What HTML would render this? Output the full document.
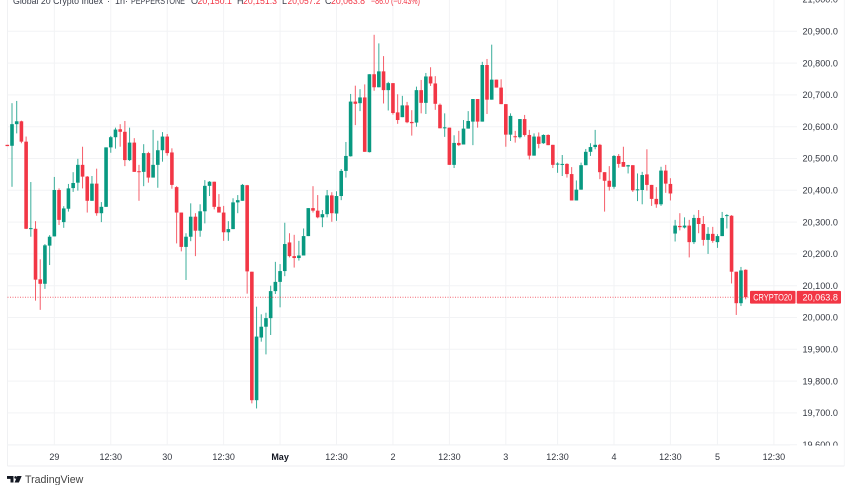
<!DOCTYPE html>
<html lang="en">
<head>
<meta charset="utf-8">
<title>Global 20 Crypto Index candlestick chart</title>
<style>
html,body{margin:0;padding:0;background:#fff;}
body{width:852px;height:485px;overflow:hidden;position:relative;}
#chart{position:absolute;left:0;top:0;filter:blur(0.3px);}
text{font-family:"Liberation Sans",sans-serif;}
</style>
</head>
<body>
<svg id="chart" width="852" height="485" viewBox="0 0 852 485" xmlns="http://www.w3.org/2000/svg">
  <defs>
    <clipPath id="price-clip"><rect x="797" y="0" width="50" height="445.6"/></clipPath>
  </defs>
  <g id="grid"></g>
  <g id="candles"></g>
  <g id="price-axis" clip-path="url(#price-clip)"></g>
  <g id="time-axis"></g>
  <g id="price-marker"></g>
  <g font-size="9" fill="#3a3e4a">
    <text x="13" y="4" textLength="90" lengthAdjust="spacingAndGlyphs">Global 20 Crypto Index</text>
    <text x="107" y="4">·</text>
    <text x="115" y="4">1h</text>
    <text x="125" y="4">·</text>
    <text x="131" y="4" textLength="54" lengthAdjust="spacingAndGlyphs">PEPPERSTONE</text>
    <text x="191" y="4">O</text>
    <text x="197.5" y="4" textLength="34.5" lengthAdjust="spacingAndGlyphs" fill="#f23645">20,150.1</text>
    <text x="237" y="4">H</text>
    <text x="243" y="4" textLength="34" lengthAdjust="spacingAndGlyphs" fill="#f23645">20,151.3</text>
    <text x="282" y="4">L</text>
    <text x="287.5" y="4" textLength="33" lengthAdjust="spacingAndGlyphs" fill="#f23645">20,057.2</text>
    <text x="325" y="4">C</text>
    <text x="331" y="4" textLength="34" lengthAdjust="spacingAndGlyphs" fill="#f23645">20,063.8</text>
    <text x="371" y="4" textLength="49" lengthAdjust="spacingAndGlyphs" fill="#f23645">−86.0 (−0.43%)</text>
  </g>
  <g>
    <path d="M7 476h6.5v6.5h-3v-3.6H7zM14.6 482.5l2.7-6.5h4.4l-2.8 6.5z" fill="#131722"/>
    <circle cx="15.6" cy="477.4" r="1.3" fill="#131722"/>
    <text x="25" y="483" font-size="10.6" fill="#444">TradingView</text>
  </g>
</svg>
<script>
const opens = [20543,20540,20608,20617,20553,20279,20279,20120,20106,20226,20255,20401,20300,20342,20407,20424,20480,20443,20367,20421,20328,20348,20535,20567,20592,20584,20495,20550,20460,20458,20517,20440,20480,20526,20569,20519,20410,20330,20222,20254,20317,20273,20334,20414,20427,20348,20330,20268,20278,20362,20367,20416,20144,19740,19937,19971,19998,20083,20112,20146,20236,20193,20187,20195,20256,20344,20336,20315,20325,20384,20327,20382,20461,20507,20679,20674,20692,20520,20765,20724,20774,20715,20737,20645,20630,20667,20615,20613,20715,20675,20758,20736,20669,20595,20597,20480,20549,20544,20594,20616,20687,20616,20794,20685,20748,20723,20671,20575,20570,20567,20624,20574,20509,20569,20548,20574,20543,20482,20481,20483,20451,20368,20402,20479,20521,20536,20543,20457,20430,20411,20508,20489,20475,20479,20401,20401,20450,20417,20373,20356,20462,20420,20264,20288,20283,20289,20237,20313,20294,20244,20263,20237,20256,20320,20320,20144,20045,20150.1];
const highs = [20543,20674,20681,20619,20569,20426,20303,20183,20231,20259,20442,20406,20350,20420,20457,20499,20537,20445,20445,20468,20363,20535,20571,20597,20608,20618,20597,20564,20480,20545,20521,20590,20556,20583,20577,20532,20413,20330,20265,20359,20328,20356,20432,20429,20427,20388,20351,20303,20375,20385,20420,20417,20144,20034,20010,20015,20100,20175,20168,20298,20265,20260,20241,20280,20344,20413,20385,20338,20401,20394,20397,20467,20552,20703,20729,20718,20733,20765,20889,20862,20822,20741,20737,20702,20697,20678,20652,20726,20747,20769,20787,20759,20673,20642,20597,20573,20587,20621,20649,20687,20687,20804,20813,20858,20748,20749,20671,20642,20587,20624,20637,20590,20579,20582,20576,20576,20543,20488,20511,20485,20473,20431,20487,20530,20548,20590,20546,20457,20476,20511,20514,20537,20480,20479,20453,20458,20529,20417,20410,20474,20480,20438,20307,20328,20315,20307,20323,20338,20319,20284,20285,20262,20332,20325,20322,20144,20159,20151.3];
const lows = [20539,20411,20579,20548,20278,20254,20053,20024,20090,20165,20255,20291,20282,20333,20395,20399,20406,20330,20367,20320,20300,20348,20518,20531,20537,20476,20492,20458,20367,20413,20424,20440,20408,20490,20509,20405,20233,20208,20118,20240,20193,20254,20296,20382,20340,20330,20241,20241,20278,20328,20367,20075,19730,19714,19924,19884,19945,20074,20032,20130,20189,20157,20179,20195,20256,20330,20312,20284,20315,20301,20304,20369,20440,20506,20605,20649,20521,20519,20713,20724,20673,20651,20638,20609,20630,20611,20572,20600,20642,20640,20728,20653,20595,20568,20480,20470,20539,20544,20594,20542,20597,20616,20640,20685,20723,20671,20537,20555,20550,20563,20569,20497,20509,20532,20546,20542,20470,20455,20445,20440,20368,20368,20402,20479,20508,20529,20435,20333,20399,20405,20471,20474,20453,20395,20366,20356,20399,20351,20345,20351,20392,20368,20239,20274,20280,20189,20231,20265,20226,20200,20235,20219,20256,20280,20107,20008,20036,20057.2];
const closes = [20539,20608,20617,20553,20279,20281,20119,20106,20227,20254,20401,20307,20343,20406,20423,20480,20443,20367,20421,20328,20348,20535,20567,20591,20584,20495,20550,20458,20458,20517,20440,20480,20526,20569,20517,20417,20330,20222,20254,20317,20273,20334,20414,20427,20348,20330,20268,20278,20362,20369,20417,20145,19740,19940,19971,19998,20083,20112,20146,20231,20193,20187,20195,20256,20344,20336,20315,20325,20384,20328,20382,20461,20508,20679,20672,20692,20521,20765,20724,20774,20715,20737,20643,20621,20667,20614,20611,20715,20675,20758,20736,20672,20595,20598,20480,20549,20542,20594,20618,20687,20616,20794,20685,20748,20723,20671,20575,20634,20568,20624,20574,20509,20569,20546,20574,20542,20480,20484,20483,20451,20368,20402,20479,20521,20536,20543,20457,20430,20411,20508,20483,20474,20479,20400,20403,20448,20417,20373,20356,20462,20421,20390,20289,20284,20289,20237,20313,20294,20244,20263,20241,20256,20313,20322,20144,20045,20148,20063.8];
const priceTicks = [21000,20900,20800,20700,20600,20500,20400,20300,20200,20100,20000,19900,19800,19700,19600];
const timeLabels = ["29","12:30","30","12:30","May","12:30","2","12:30","3","12:30","4","12:30","5","12:30"];
const timeBars = [10,22,34,46,58,70,82,94,106,117,129,141,151,163];
const lastPrice = 20063.8;
const lastPriceText = "20,063.8";
const symbolText = "CRYPTO20";

const NS = "http://www.w3.org/2000/svg";
const UP = "#089981", DOWN = "#f23645";
const PLOT_LEFT = 7.5, PLOT_RIGHT = 797, PLOT_BOTTOM = 445;
function xAt(i){ return 7.3 + 4.703 * i; }
function yAt(p){ return 317.5 - (p - 20000) * 0.318; }
function fmt(p){ return p.toLocaleString("en-US",{minimumFractionDigits:1,maximumFractionDigits:1}); }
function make(tag, attrs, parent){
  const el = document.createElementNS(NS, tag);
  for (const k in attrs) el.setAttribute(k, attrs[k]);
  parent.appendChild(el);
  return el;
}
const gridG = document.getElementById("grid");
const candleG = document.getElementById("candles");
const priceG = document.getElementById("price-axis");
const timeG = document.getElementById("time-axis");
const markerG = document.getElementById("price-marker");

priceTicks.forEach(function(p){
  const y = yAt(p);
  const line = make("line",{x1:PLOT_LEFT,x2:PLOT_RIGHT,y1:y,y2:y,stroke:"#f2f3f5","stroke-width":1},gridG);
  
  
  const label = make("text",{x:802.5,y:y+3.2,"font-size":9.1,fill:"#333740"},priceG);
  
  
  label.textContent = fmt(p);
});
timeLabels.forEach(function(t,i){
  const x = xAt(timeBars[i]);
  const line = make("line",{x1:x,x2:x,y1:0,y2:PLOT_BOTTOM,stroke:"#f2f3f5","stroke-width":1},gridG);
  
  
  const bold = t === "May";
  const label = make("text",{x:x,y:460,"font-size":9,"text-anchor":"middle",fill:bold ? "#131722" : "#333740","font-weight":bold ? "700" : "400"},timeG);
  
  
  label.textContent = t;
});
const leftEdge = make("line",{x1:PLOT_LEFT,x2:PLOT_LEFT,y1:0,y2:466,stroke:"#f0f1f3","stroke-width":1},gridG);


const rightEdge = make("line",{x1:844.3,x2:844.3,y1:0,y2:466,stroke:"#f4f5f7","stroke-width":1},gridG);


const axisTop = make("line",{x1:PLOT_LEFT,x2:790,y1:PLOT_BOTTOM,y2:PLOT_BOTTOM,stroke:"#f2f3f5","stroke-width":1},gridG);


const axisBottom = make("line",{x1:PLOT_LEFT,x2:844.3,y1:466,y2:466,stroke:"#eceef1","stroke-width":1},gridG);



opens.forEach(function(o,i){
  const c = closes[i], color = c >= o ? UP : DOWN, x = xAt(i);
  const wick = make("line",{x1:x,x2:x,y1:yAt(highs[i]),y2:yAt(lows[i]),stroke:color,"stroke-width":1,"stroke-opacity":0.8},candleG);
  
  
  const top = yAt(Math.max(o,c)), h = Math.max(yAt(Math.min(o,c)) - top, 1);
  const body = make("rect",{x:x-1.8,y:top,width:3.6,height:h,fill:color},candleG);
  
  
});

const ly = yAt(lastPrice);
const dotted = make("line",{x1:PLOT_LEFT,x2:750,y1:ly,y2:ly,stroke:DOWN,"stroke-width":1,"stroke-dasharray":"1 1.5","stroke-opacity":0.75},markerG);


const symBox = make("rect",{x:750,y:ly-6.3,width:45.5,height:12.7,rx:1,fill:DOWN},markerG);


const symLabel = make("text",{x:753.2,y:ly+3.2,"font-size":9,textLength:39,lengthAdjust:"spacingAndGlyphs",fill:"#fff"},markerG);


symLabel.textContent = symbolText;
const priceBox = make("rect",{x:796.7,y:ly-6.3,width:44.3,height:12.7,rx:1,fill:DOWN},markerG);


const priceLabel = make("text",{x:802.5,y:ly+3.2,"font-size":9.1,fill:"#fff"},markerG);


priceLabel.textContent = lastPriceText;
</script>
</body>
</html>
